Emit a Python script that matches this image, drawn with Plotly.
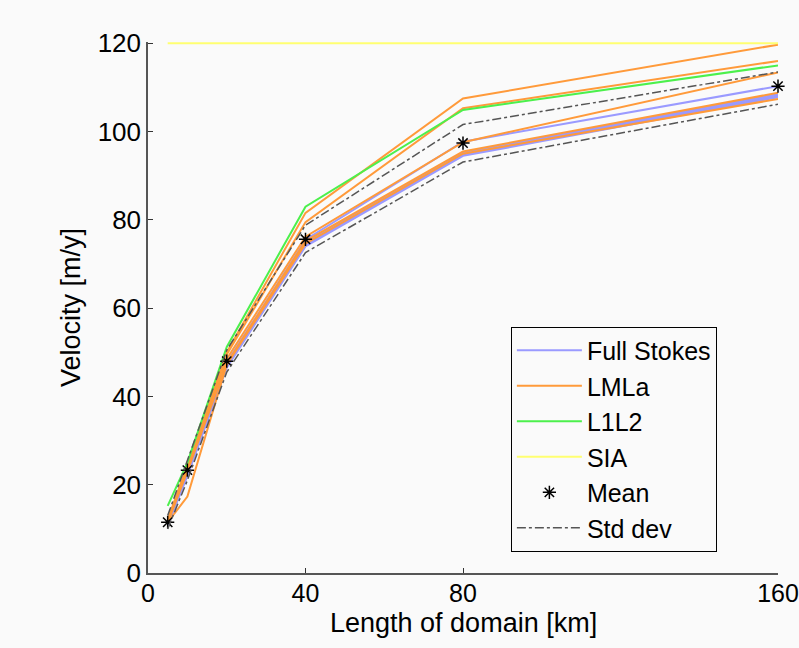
import plotly.graph_objects as go

x_km = [5, 10, 20, 40, 80, 160]

full_stokes = [
    [11.5, 23.0, 47.5, 75.5, 97.7, 110.3],
    [11.3, 22.6, 47.0, 74.8, 95.3, 108.6],
    [11.0, 22.3, 46.8, 74.3, 94.8, 108.0],
    [11.6, 23.2, 47.8, 75.0, 95.0, 108.3],
    [10.8, 22.0, 46.5, 74.0, 94.5, 107.8],
]
lmla = [
    [12.0, 24.5, 50.0, 81.6, 107.5, 119.7],
    [12.0, 24.0, 49.5, 79.5, 105.3, 116.0],
    [11.8, 23.5, 48.5, 76.2, 97.6, 113.4],
    [11.4, 23.0, 47.5, 75.2, 95.5, 108.8],
    [11.5, 17.3, 47.2, 74.6, 95.0, 107.4],
]
l1l2 = [
    [15.2, 25.0, 51.2, 83.0, 104.9, 115.0],
]
sia = [
    [120, 120, 120, 120, 120, 120],
]
mean_v = [11.5, 23.3, 48.0, 75.6, 97.4, 110.3]
std_upper = [13.0, 25.5, 50.5, 78.8, 101.6, 113.5]
std_lower = [10.0, 21.0, 45.5, 72.6, 93.1, 106.2]

groups = [
    ("Full Stokes", full_stokes, "#9a9aff"),
    ("LMLa", lmla, "#ff9a3a"),
    ("L1L2", l1l2, "#4cf04c"),
    ("SIA", sia, "#ffff70"),
]

fig = go.Figure()
for name, series, color in groups:
    for i, ys in enumerate(series):
        fig.add_trace(go.Scatter(
            x=x_km, y=ys, mode="lines", name=name,
            line=dict(color=color, width=2),
            showlegend=(i == 0), legendgroup=name, cliponaxis=False,
        ))

fig.add_trace(go.Scatter(
    x=x_km, y=mean_v, mode="markers", name="Mean", legendgroup="mean",
    marker=dict(symbol="asterisk", size=11, color="black",
                line=dict(color="black", width=1.5)),
    cliponaxis=False,
))
for i, ys in enumerate([std_upper, std_lower]):
    fig.add_trace(go.Scatter(
        x=x_km, y=ys, mode="lines", name="Std dev",
        line=dict(color="#555555", width=1.5, dash="dashdot"),
        showlegend=(i == 0), legendgroup="std",
    ))

font = "Liberation Sans, Arial, sans-serif"
fig.update_layout(
    width=799, height=648,
    margin=dict(l=148, r=21, t=42, b=75),
    paper_bgcolor="#fafafa", plot_bgcolor="#fafafa",
    font=dict(family=font, size=26, color="black"),
    xaxis=dict(
        range=[0, 160], tickvals=[0, 40, 80, 160],
        showgrid=False, zeroline=False, showline=True,
        linecolor="#555555", linewidth=1.5,
        ticks="inside", ticklen=5, tickcolor="#333333",
        tickfont=dict(size=25), automargin=False,
        ticklabeloverflow="allow", ticklabelstandoff=-3,
    ),
    yaxis=dict(
        range=[0, 120.3], tickvals=[0, 20, 40, 60, 80, 100, 120],
        showgrid=False, zeroline=False, showline=True,
        linecolor="#555555", linewidth=1.5,
        ticks="inside", ticklen=5, tickcolor="#333333",
        title=dict(text="Velocity [m/y]", standoff=9, font=dict(size=27)),
        tickfont=dict(size=26), automargin=False,
    ),
    legend=dict(
        x=0.576, y=0.464, xanchor="left", yanchor="top",
        bgcolor="#fafafa", bordercolor="black", borderwidth=1,
        font=dict(size=25), tracegroupgap=0, itemwidth=65,
    ),
    annotations=[dict(
        text="Length of domain [km]", xref="paper", yref="paper",
        x=0.5, y=-0.095, xanchor="center", yanchor="middle",
        showarrow=False, font=dict(size=27),
    )],
)

fig.write_html("out.html")
